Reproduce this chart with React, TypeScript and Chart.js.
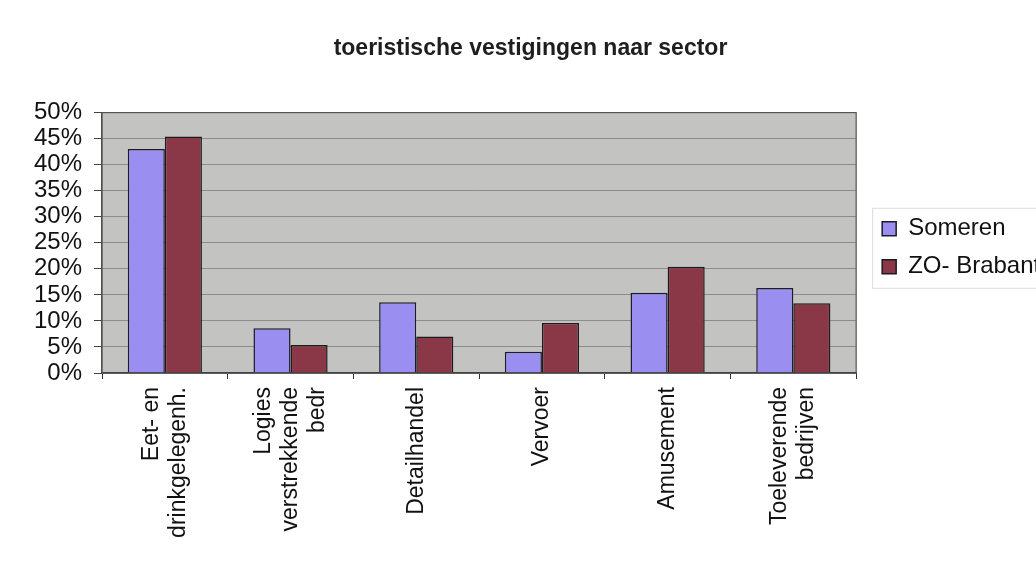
import React, { useEffect, useRef } from 'react';
import { Chart, registerables } from 'chart.js';

Chart.register(...registerables);

// ---- data ----
const chartTitle = 'toeristische vestigingen naar sector';
const categories: string[][] = [
  ['Eet- en', 'drinkgelegenh.'],
  ['Logies', 'verstrekkende', 'bedr'],
  ['Detailhandel'],
  ['Vervoer'],
  ['Amusement'],
  ['Toeleverende', 'bedrijven'],
];
const seriesNames = ['Someren', 'ZO- Brabant'];
const someren = [43.0, 8.6, 13.6, 4.1, 15.4, 16.3];
const zoBrabant = [45.4, 5.4, 7.0, 9.6, 20.4, 13.4];
const yTickLabels = ['0%', '5%', '10%', '15%', '20%', '25%', '30%', '35%', '40%', '45%', '50%'];

// ---- styling ----
const FONT = 'Arial, "Liberation Sans", sans-serif';
const SLOTS = 5;
const HALF_LINE = 13.5;

function padLabel(lines: string[]): string[] {
  const out: string[] = new Array(SLOTS).fill('');
  const start = (SLOTS - 1) / 2 - (lines.length - 1);
  lines.forEach((l, i) => {
    out[start + 2 * i] = l;
  });
  return out;
}

const plotAreaPlugin = {
  id: 'plotArea',
  beforeDraw(chart: any) {
    const { ctx, chartArea: a } = chart;
    ctx.save();
    ctx.fillStyle = '#c3c3c1';
    ctx.fillRect(a.left, a.top, a.right - a.left, a.bottom - a.top);
    ctx.restore();
  },
  afterDraw(chart: any) {
    const { ctx, chartArea: a } = chart;
    ctx.save();
    ctx.strokeStyle = '#555555';
    ctx.lineWidth = 1.2;
    ctx.strokeRect(a.left, a.top, a.right - a.left, a.bottom - a.top);
    const lg = chart.legend;
    if (lg && lg.legendHitBoxes && lg.legendHitBoxes.length) {
      const hb = lg.legendHitBoxes;
      const first = hb[0];
      const last = hb[hb.length - 1];
      ctx.strokeStyle = '#dcdcdc';
      ctx.lineWidth = 1;
      const x0 = first.left - 10;
      const y0 = first.top - 9;
      const y1 = last.top + last.height + 9;
      ctx.strokeRect(x0 + 0.5, y0 + 0.5, chart.width - x0 + 5, y1 - y0);
    }
    ctx.restore();
  },
};

export default function App() {
  const ref = useRef<HTMLCanvasElement | null>(null);

  useEffect(() => {
    if (!ref.current) return;
    const chart = new Chart(ref.current, {
      type: 'bar',
      data: {
        labels: categories.map(padLabel),
        datasets: [
          {
            label: seriesNames[0],
            data: someren,
            backgroundColor: '#9a8ef0',
            borderColor: '#1c1c2a',
            borderWidth: 1.5,
          },
          {
            label: seriesNames[1],
            data: zoBrabant,
            backgroundColor: '#8a3848',
            borderColor: '#1c1c1c',
            borderWidth: 1.5,
          },
        ],
      },
      options: {
        animation: false,
        responsive: true,
        maintainAspectRatio: false,
        layout: { padding: { left: 24, right: -1, top: 0, bottom: 0 } },
        datasets: {
          bar: { categoryPercentage: 0.59, barPercentage: 1.0 },
        },
        plugins: {
          title: {
            display: true,
            text: chartTitle,
            color: '#1e1e1e',
            font: { family: FONT, size: 23, weight: 'bold' },
            padding: { top: 35, bottom: 50 },
          },
          legend: {
            position: 'right',
            fullSize: false,
            title: {
              display: true,
              text: ' ',
              padding: 0,
              font: { family: FONT, size: 8, lineHeight: '10px' },
            },
            labels: {
              color: '#111111',
              font: { family: FONT, size: 24 },
              boxWidth: 14,
              boxHeight: 14,
              padding: 14,
            },
          },
          tooltip: { enabled: false },
        },
        scales: {
          x: {
            offset: true,
            grid: {
              display: true,
              drawOnChartArea: false,
              drawTicks: true,
              tickLength: 6,
              color: '#333333',
            },
            border: { display: true, color: '#222222', width: 1.2 },
            ticks: {
              autoSkip: false,
              minRotation: 90,
              maxRotation: 90,
              padding: 8,
              labelOffset: -2 * HALF_LINE,
              color: '#111111',
              font: { family: FONT, size: 23, lineHeight: HALF_LINE + 'px' },
            },
            afterFit: (s: any) => {
              s.height = 194;
            },
          },
          y: {
            min: 0,
            max: 50,
            grid: {
              color: '#8c8c8c',
              tickColor: '#444444',
              tickLength: 8,
              lineWidth: 1,
            },
            border: { display: true, color: '#444444', width: 1.2 },
            ticks: {
              stepSize: 5,
              autoSkip: false,
              padding: 12,
              color: '#111111',
              font: { family: FONT, size: 24 },
              callback: (_v: any, i: number) => yTickLabels[i],
            },
            afterFit: (s: any) => {
              s.width = 78;
            },
          },
          gap: {
            type: 'linear',
            position: 'right',
            display: true,
            grid: { display: false },
            border: { display: false },
            ticks: { display: false },
            afterFit: (s: any) => {
              s.width = 12;
            },
          },
        },
      } as any,
      plugins: [plotAreaPlugin],
    });
    return () => chart.destroy();
  }, []);

  return (
    <div style={{ position: 'fixed', left: 0, top: 0, width: 1036, height: 567, background: '#ffffff' }}>
      <canvas ref={ref} />
    </div>
  );
}
